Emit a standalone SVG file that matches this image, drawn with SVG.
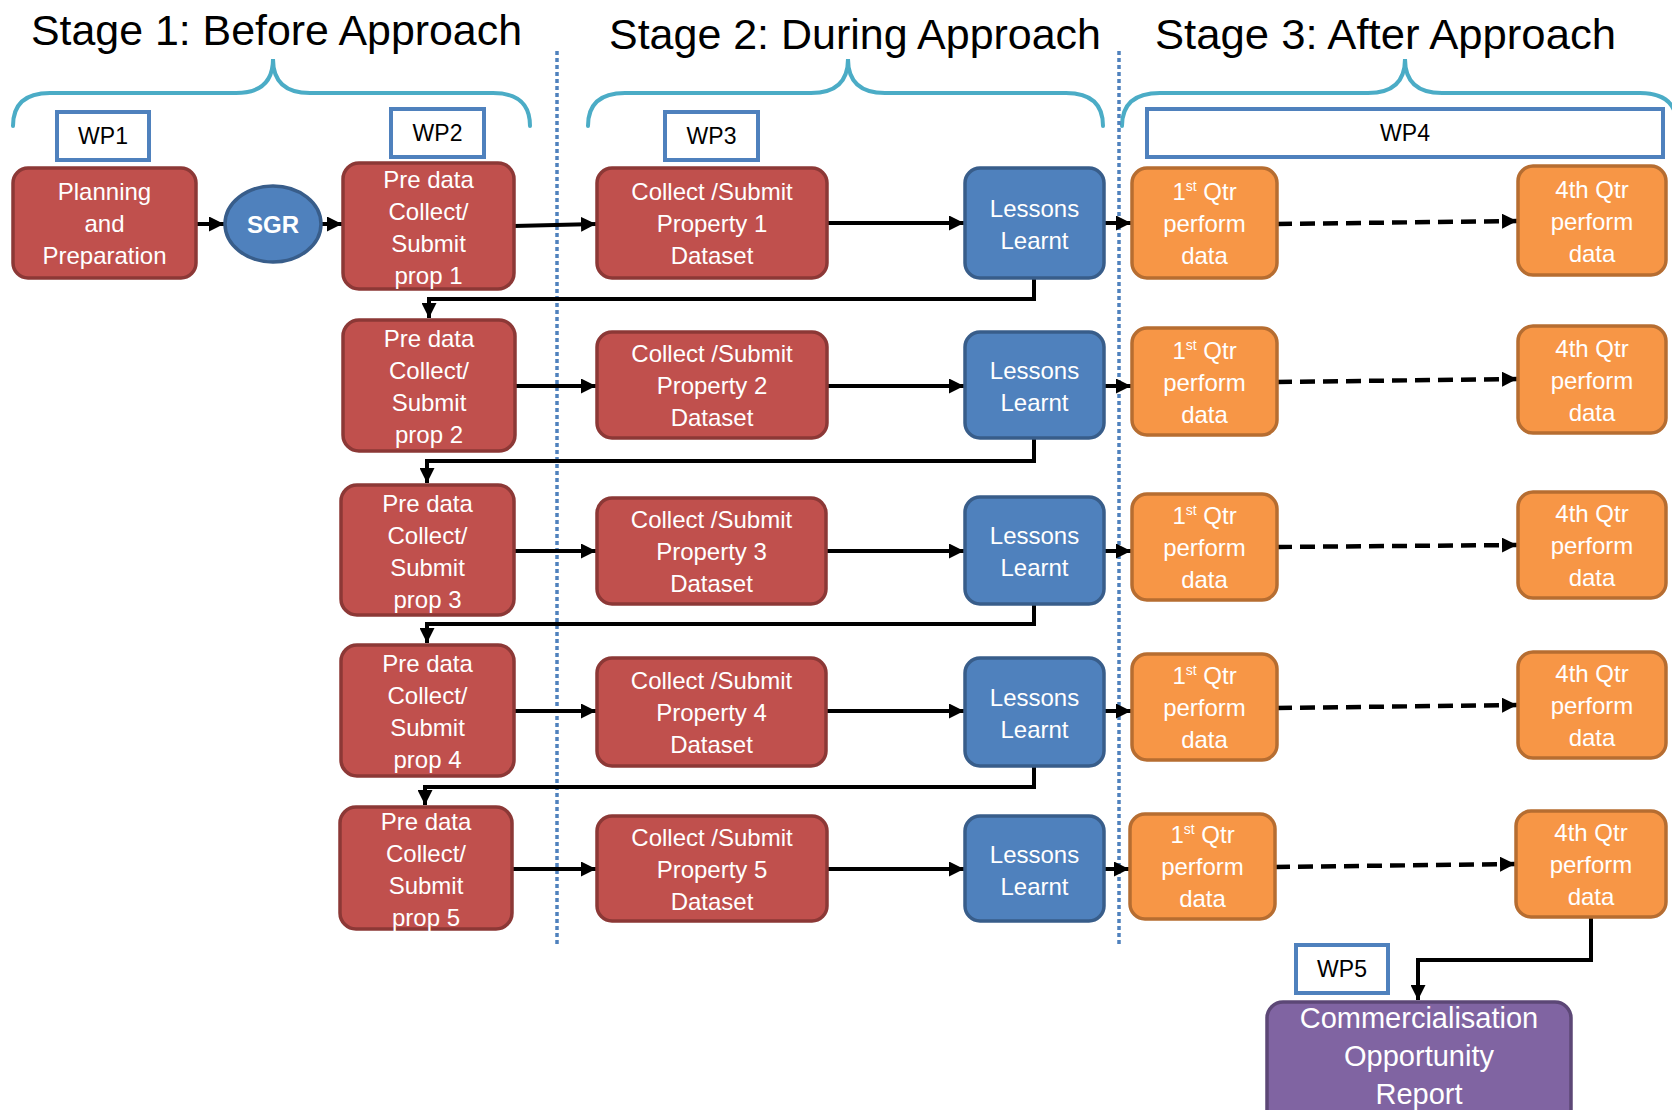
<svg xmlns="http://www.w3.org/2000/svg" width="1672" height="1110" viewBox="0 0 1672 1110">
<style>
.title{font-family:"Liberation Sans",Arial,sans-serif;font-size:43px;fill:#000}
.wp rect{fill:#fff;stroke:#4f81bd;stroke-width:4}
.wp text{font-family:"Liberation Sans",Arial,sans-serif;font-size:23px;fill:#000;text-anchor:middle}
.brace{fill:none;stroke:#4bacc6;stroke-width:4;stroke-linecap:round}
.divider{stroke:#4f81bd;stroke-width:3.5;stroke-dasharray:4 3}
.red{fill:#c0504d;stroke:#8c3836;stroke-width:3.5}
.blue{fill:#4f81bd;stroke:#385d8a;stroke-width:3.5}
.orange{fill:#f79646;stroke:#b66d31;stroke-width:3.5}
.purple{fill:#8064a2;stroke:#5c4776;stroke-width:3.5}
.lbl{font-family:"Liberation Sans",Arial,sans-serif;font-size:24px;fill:#fff;text-anchor:middle}
.big{font-size:29px}
.conn path{fill:none;stroke:#000;stroke-width:4;marker-end:url(#arr)}
.conn path.dash{stroke-width:4.5;stroke-dasharray:15 8}
</style>
<defs>
<marker id="arr" viewBox="0 0 10 10" refX="10" refY="5" markerWidth="15" markerHeight="15" markerUnits="userSpaceOnUse" orient="auto">
<path d="M0,0 L10,5 L0,10 z" fill="#000"/>
</marker>
</defs>
<rect width="1672" height="1110" fill="#fff"/>

<g id="titles">
<text class="title" x="31" y="45" textLength="491" lengthAdjust="spacingAndGlyphs">Stage 1: Before Approach</text>
<text class="title" x="609" y="49" textLength="492" lengthAdjust="spacingAndGlyphs">Stage 2: During Approach</text>
<text class="title" x="1155" y="49" textLength="461" lengthAdjust="spacingAndGlyphs">Stage 3: After Approach</text>
</g>
<g id="braces">
<path class="brace" d="M13,126 Q13,93 50,93 L236,93 Q273,93 273,59 Q273,93 310,93 L493,93 Q530,93 530,126"/>
<path class="brace" d="M588,126 Q588,93 625,93 L811,93 Q848,93 848,59 Q848,93 885,93 L1066,93 Q1103,93 1103,126"/>
<path class="brace" d="M1122,126 Q1122,93 1160,93 L1368,93 Q1405,93 1405,59 Q1405,93 1442,93 L1640,93 Q1677,93 1677,126"/>
</g>
<g id="dividers">
<line class="divider" x1="557" y1="51" x2="557" y2="946"/>
<line class="divider" x1="1119" y1="51" x2="1119" y2="946"/>
</g>

<g id="wp1" class="wp"><rect x="57" y="112" width="92" height="48"/><text x="103" y="144">WP1</text></g>
<g id="wp2" class="wp"><rect x="391" y="109" width="93" height="48"/><text x="437.5" y="141">WP2</text></g>
<g id="wp3" class="wp"><rect x="665" y="112" width="93" height="48"/><text x="711.5" y="144">WP3</text></g>
<g id="wp4" class="wp"><rect x="1147" y="109" width="516" height="48"/><text x="1405" y="141">WP4</text></g>
<g id="wp5" class="wp"><rect x="1296" y="945" width="92" height="48"/><text x="1342" y="977">WP5</text></g>

<g id="connectors" class="conn">
<path d="M196,224 L224,224"/>
<path d="M321,224 L342,224"/>
<path d="M514,226 L596,224"/>
<path d="M827,223 L964,223"/>
<path d="M1104,223 L1131,223"/>
<path class="dash" d="M1277,224 L1517,221"/>
<path d="M1034,278 L1034,299 L429,299 L429,318"/>
<path d="M515,386 L596,386"/>
<path d="M827,386 L964,386"/>
<path d="M1104,386 L1131,386"/>
<path class="dash" d="M1277,382 L1517,379"/>
<path d="M1034,438 L1034,461 L427,461 L427,483"/>
<path d="M514,551 L596,551"/>
<path d="M826,551 L964,551"/>
<path d="M1104,551 L1131,551"/>
<path class="dash" d="M1277,547 L1517,545"/>
<path d="M1034,604 L1034,624 L427,624 L427,643"/>
<path d="M514,711 L596,711"/>
<path d="M826,711 L964,711"/>
<path d="M1104,711 L1131,711"/>
<path class="dash" d="M1277,708 L1517,705"/>
<path d="M1034,766 L1034,787 L425,787 L425,805"/>
<path d="M512,869 L596,869"/>
<path d="M827,869 L964,869"/>
<path d="M1104,869 L1129,869"/>
<path class="dash" d="M1275,867 L1515,864"/>
<path d="M1591,917 L1591,960 L1418,960 L1418,1000"/>
</g>

<g id="planning"><rect class="red" x="13" y="168" width="183" height="110" rx="15"/>
<text class="lbl" x="104.5" y="200">Planning</text><text class="lbl" x="104.5" y="232">and</text><text class="lbl" x="104.5" y="264">Preparation</text></g>
<g id="sgr"><ellipse class="blue" cx="273" cy="224" rx="48" ry="38"/>
<text class="lbl" x="273" y="233" style="font-weight:bold;font-size:24px">SGR</text></g>

<g id="pre1"><rect class="red" x="343" y="163" width="171" height="126" rx="16"/>
<text class="lbl" x="428.5" y="188">Pre data</text><text class="lbl" x="428.5" y="220">Collect/</text><text class="lbl" x="428.5" y="252">Submit</text><text class="lbl" x="428.5" y="284">prop 1</text></g>
<g id="collect1"><rect class="red" x="597" y="168" width="230" height="110" rx="15"/>
<text class="lbl" x="712" y="200">Collect /Submit</text><text class="lbl" x="712" y="232">Property 1</text><text class="lbl" x="712" y="264">Dataset</text></g>
<g id="lessons1"><rect class="blue" x="965" y="168" width="139" height="110" rx="15"/>
<text class="lbl" x="1034.5" y="217">Lessons</text><text class="lbl" x="1034.5" y="249">Learnt</text></g>
<g id="q1_1"><rect class="orange" x="1132" y="168" width="145" height="110" rx="15"/>
<text class="lbl" x="1204.5" y="200">1<tspan font-size="14" dy="-9">st</tspan><tspan dy="9"> Qtr</tspan></text><text class="lbl" x="1204.5" y="232">perform</text><text class="lbl" x="1204.5" y="264">data</text></g>
<g id="q4_1"><rect class="orange" x="1518" y="166" width="148" height="109" rx="15"/>
<text class="lbl" x="1592" y="198">4th Qtr</text><text class="lbl" x="1592" y="230">perform</text><text class="lbl" x="1592" y="262">data</text></g>

<g id="pre2"><rect class="red" x="343" y="320" width="172" height="131" rx="16"/>
<text class="lbl" x="429" y="347">Pre data</text><text class="lbl" x="429" y="379">Collect/</text><text class="lbl" x="429" y="411">Submit</text><text class="lbl" x="429" y="443">prop 2</text></g>
<g id="collect2"><rect class="red" x="597" y="332" width="230" height="106" rx="15"/>
<text class="lbl" x="712" y="362">Collect /Submit</text><text class="lbl" x="712" y="394">Property 2</text><text class="lbl" x="712" y="426">Dataset</text></g>
<g id="lessons2"><rect class="blue" x="965" y="332" width="139" height="106" rx="15"/>
<text class="lbl" x="1034.5" y="379">Lessons</text><text class="lbl" x="1034.5" y="411">Learnt</text></g>
<g id="q1_2"><rect class="orange" x="1132" y="328" width="145" height="107" rx="15"/>
<text class="lbl" x="1204.5" y="359">1<tspan font-size="14" dy="-9">st</tspan><tspan dy="9"> Qtr</tspan></text><text class="lbl" x="1204.5" y="391">perform</text><text class="lbl" x="1204.5" y="423">data</text></g>
<g id="q4_2"><rect class="orange" x="1518" y="326" width="148" height="107" rx="15"/>
<text class="lbl" x="1592" y="357">4th Qtr</text><text class="lbl" x="1592" y="389">perform</text><text class="lbl" x="1592" y="421">data</text></g>

<g id="pre3"><rect class="red" x="341" y="485" width="173" height="130" rx="16"/>
<text class="lbl" x="427.5" y="512">Pre data</text><text class="lbl" x="427.5" y="544">Collect/</text><text class="lbl" x="427.5" y="576">Submit</text><text class="lbl" x="427.5" y="608">prop 3</text></g>
<g id="collect3"><rect class="red" x="597" y="498" width="229" height="106" rx="15"/>
<text class="lbl" x="711.5" y="528">Collect /Submit</text><text class="lbl" x="711.5" y="560">Property 3</text><text class="lbl" x="711.5" y="592">Dataset</text></g>
<g id="lessons3"><rect class="blue" x="965" y="497" width="139" height="107" rx="15"/>
<text class="lbl" x="1034.5" y="544">Lessons</text><text class="lbl" x="1034.5" y="576">Learnt</text></g>
<g id="q1_3"><rect class="orange" x="1132" y="494" width="145" height="106" rx="15"/>
<text class="lbl" x="1204.5" y="524">1<tspan font-size="14" dy="-9">st</tspan><tspan dy="9"> Qtr</tspan></text><text class="lbl" x="1204.5" y="556">perform</text><text class="lbl" x="1204.5" y="588">data</text></g>
<g id="q4_3"><rect class="orange" x="1518" y="492" width="148" height="106" rx="15"/>
<text class="lbl" x="1592" y="522">4th Qtr</text><text class="lbl" x="1592" y="554">perform</text><text class="lbl" x="1592" y="586">data</text></g>

<g id="pre4"><rect class="red" x="341" y="645" width="173" height="131" rx="16"/>
<text class="lbl" x="427.5" y="672">Pre data</text><text class="lbl" x="427.5" y="704">Collect/</text><text class="lbl" x="427.5" y="736">Submit</text><text class="lbl" x="427.5" y="768">prop 4</text></g>
<g id="collect4"><rect class="red" x="597" y="658" width="229" height="108" rx="15"/>
<text class="lbl" x="711.5" y="689">Collect /Submit</text><text class="lbl" x="711.5" y="721">Property 4</text><text class="lbl" x="711.5" y="753">Dataset</text></g>
<g id="lessons4"><rect class="blue" x="965" y="658" width="139" height="108" rx="15"/>
<text class="lbl" x="1034.5" y="706">Lessons</text><text class="lbl" x="1034.5" y="738">Learnt</text></g>
<g id="q1_4"><rect class="orange" x="1132" y="654" width="145" height="106" rx="15"/>
<text class="lbl" x="1204.5" y="684">1<tspan font-size="14" dy="-9">st</tspan><tspan dy="9"> Qtr</tspan></text><text class="lbl" x="1204.5" y="716">perform</text><text class="lbl" x="1204.5" y="748">data</text></g>
<g id="q4_4"><rect class="orange" x="1518" y="652" width="148" height="106" rx="15"/>
<text class="lbl" x="1592" y="682">4th Qtr</text><text class="lbl" x="1592" y="714">perform</text><text class="lbl" x="1592" y="746">data</text></g>

<g id="pre5"><rect class="red" x="340" y="807" width="172" height="122" rx="16"/>
<text class="lbl" x="426" y="830">Pre data</text><text class="lbl" x="426" y="862">Collect/</text><text class="lbl" x="426" y="894">Submit</text><text class="lbl" x="426" y="926">prop 5</text></g>
<g id="collect5"><rect class="red" x="597" y="816" width="230" height="105" rx="15"/>
<text class="lbl" x="712" y="846">Collect /Submit</text><text class="lbl" x="712" y="878">Property 5</text><text class="lbl" x="712" y="910">Dataset</text></g>
<g id="lessons5"><rect class="blue" x="965" y="816" width="139" height="105" rx="15"/>
<text class="lbl" x="1034.5" y="863">Lessons</text><text class="lbl" x="1034.5" y="895">Learnt</text></g>
<g id="q1_5"><rect class="orange" x="1130" y="814" width="145" height="105" rx="15"/>
<text class="lbl" x="1202.5" y="843">1<tspan font-size="14" dy="-9">st</tspan><tspan dy="9"> Qtr</tspan></text><text class="lbl" x="1202.5" y="875">perform</text><text class="lbl" x="1202.5" y="907">data</text></g>
<g id="q4_5"><rect class="orange" x="1516" y="811" width="150" height="106" rx="15"/>
<text class="lbl" x="1591" y="841">4th Qtr</text><text class="lbl" x="1591" y="873">perform</text><text class="lbl" x="1591" y="905">data</text></g>

<g id="commercialisation"><rect class="purple" x="1267" y="1002" width="304" height="125" rx="16"/>
<text class="lbl big" x="1419" y="1028">Commercialisation</text><text class="lbl big" x="1419" y="1066">Opportunity</text><text class="lbl big" x="1419" y="1104">Report</text></g>
</svg>
